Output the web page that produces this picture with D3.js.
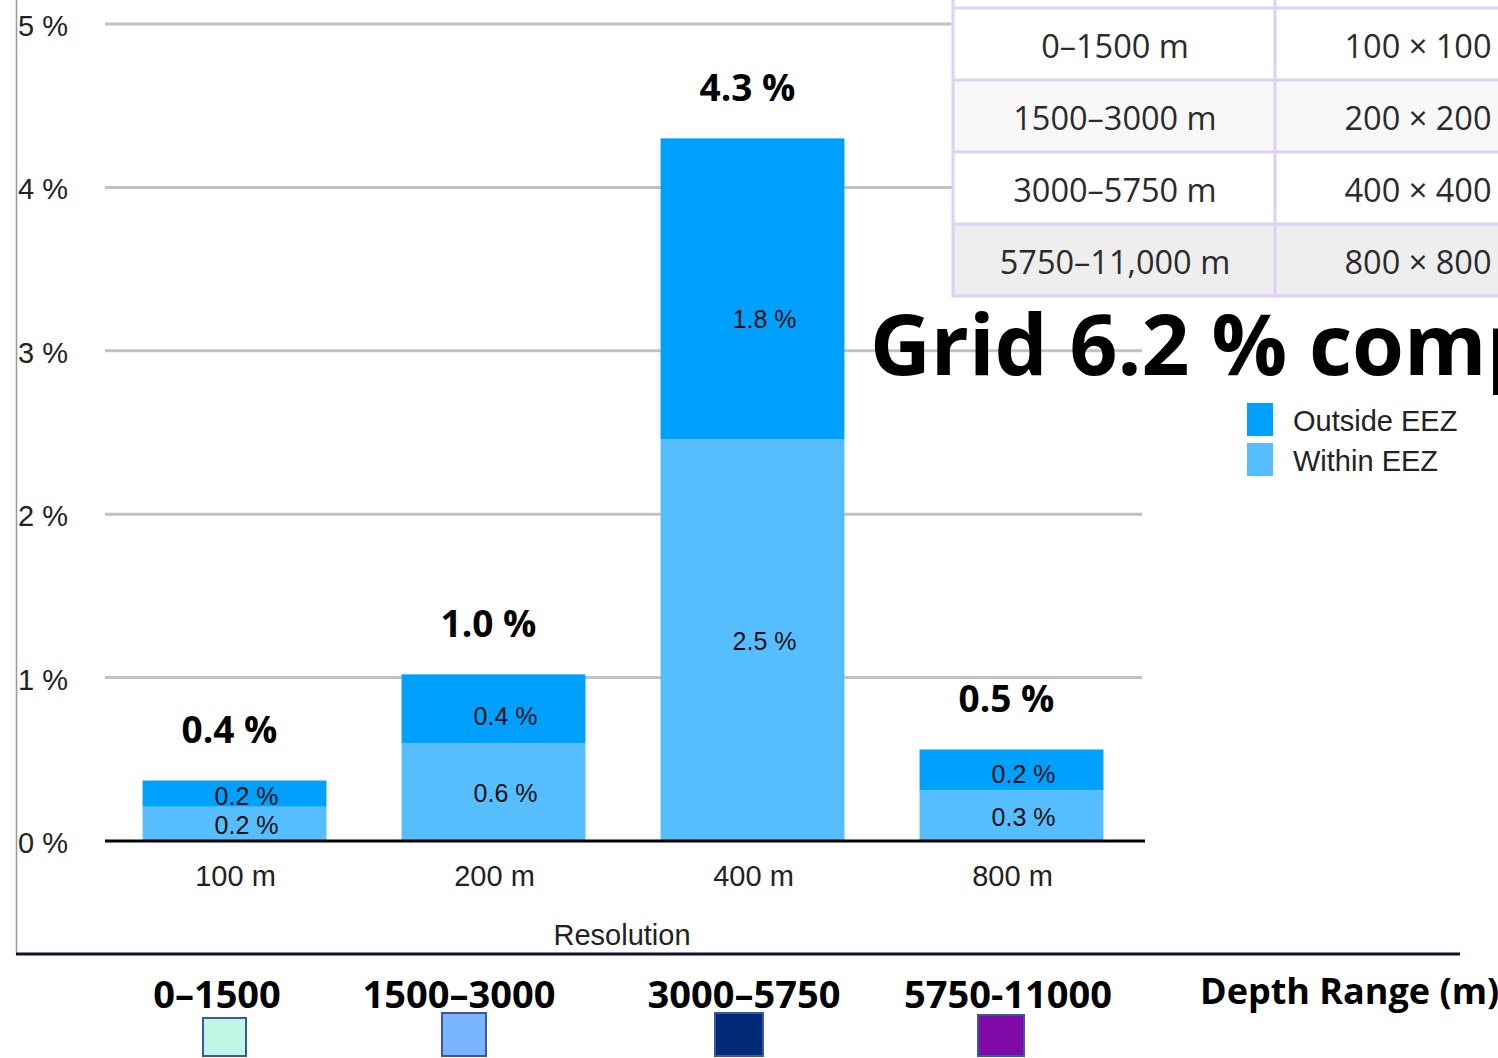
<!DOCTYPE html>
<html><head><meta charset="utf-8">
<script src="https://cdn.jsdelivr.net/npm/d3@7/dist/d3.min.js"></script>
<style>
html,body{margin:0;padding:0;background:#fff;overflow:hidden}
svg{display:block}
</style></head>
<body>
<svg id="c" width="1498" height="1058"></svg>
<script>
// ---- data ----
const categories = ["100 m", "200 m", "400 m", "800 m"];
const withinEEZ  = [0.21, 0.60, 2.46, 0.31];
const outsideEEZ = [0.16, 0.42, 1.84, 0.25];
const withinLabels  = ["0.2 %", "0.6 %", "2.5 %", "0.3 %"];
const outsideLabels = ["0.2 %", "0.4 %", "1.8 %", "0.2 %"];
const totalLabels   = ["0.4 %", "1.0 %", "4.3 %", "0.5 %"];
const yTicks = [0, 1, 2, 3, 4, 5];
const seriesNames = ["Outside EEZ", "Within EEZ"];
const tableDepth = ["0–1500 m", "1500–3000 m", "3000–5750 m", "5750–11,000 m"];
const tableGrid  = ["100 × 100", "200 × 200", "400 × 400", "800 × 800"];
const depthRanges = ["0–1500", "1500–3000", "3000–5750", "5750-11000"];
const depthColors = ["#bff7e6", "#78b4ff", "#032a78", "#8209aa"];

const svg = d3.select("#c");
const colOut = "#00a0ff", colIn = "#56beff";

const x = d3.scaleBand().domain(categories).range([105, 1141]).paddingInner(0.29).paddingOuter(0.145);
const y = d3.scaleLinear().domain([0, 5]).range([841, 24]);

// left frame line
svg.append("line").attr("x1", 16.5).attr("x2", 16.5).attr("y1", 0).attr("y2", 953).attr("stroke", "#999").attr("stroke-width", 1.5);

// gridlines
svg.append("g").selectAll("line").data(yTicks.filter(d => d > 0)).join("line")
  .attr("x1", 105).attr("x2", 1142).attr("y1", d => y(d)).attr("y2", d => y(d))
  .attr("stroke", "#c2c2c2").attr("stroke-width", 3);

// y tick labels
svg.append("g").selectAll("text").data(yTicks).join("text")
  .attr("x", 18).attr("y", d => y(d) + 2).attr("dominant-baseline", "central")
  .attr("font-family", "Liberation Sans, Arial, sans-serif").attr("font-size", 29).attr("fill", "#222")
  .text(d => d + " %");

// bars
const data = categories.map((c, i) => ({c, w: withinEEZ[i], o: outsideEEZ[i], i}));
const g = svg.append("g");
g.selectAll("rect.in").data(data).join("rect").attr("class", "in")
  .attr("x", d => x(d.c)).attr("width", x.bandwidth())
  .attr("y", d => y(d.w)).attr("height", d => y(0) - y(d.w)).attr("fill", colIn);
g.selectAll("rect.out").data(data).join("rect").attr("class", "out")
  .attr("x", d => x(d.c)).attr("width", x.bandwidth())
  .attr("y", d => y(d.w + d.o)).attr("height", d => y(d.w) - y(d.w + d.o)).attr("fill", colOut);

// baseline
svg.append("line").attr("x1", 105).attr("x2", 1145).attr("y1", y(0)).attr("y2", y(0)).attr("stroke", "#000").attr("stroke-width", 3);

const lblFont = "Liberation Sans, Arial, sans-serif";
// inner labels
g.selectAll("text.in").data(data).join("text").attr("class", "in")
  .attr("x", d => x(d.c) + x.bandwidth() / 2 + 12).attr("y", d => (y(0) + y(d.w)) / 2 + 1)
  .attr("text-anchor", "middle").attr("dominant-baseline", "central")
  .attr("font-family", lblFont).attr("font-size", 25).attr("fill", "#111")
  .text(d => withinLabels[d.i]);
g.selectAll("text.out").data(data).join("text").attr("class", "out")
  .attr("x", d => x(d.c) + x.bandwidth() / 2 + 12)
  .attr("y", d => y(d.w) - 0.4 * (y(d.w) - y(d.w + d.o)))
  .attr("text-anchor", "middle").attr("dominant-baseline", "central")
  .attr("font-family", lblFont).attr("font-size", 25).attr("fill", "#111")
  .text(d => outsideLabels[d.i]);
// total labels
g.selectAll("text.tot").data(data).join("text").attr("class", "tot")
  .attr("x", d => x(d.c) + x.bandwidth() / 2 - 5).attr("y", d => y(d.w + d.o) - 52)
  .attr("text-anchor", "middle").attr("dominant-baseline", "central")
  .attr("font-family", "Open Sans, sans-serif").attr("font-weight", "bold").attr("font-size", 37).attr("fill", "#000")
  .text(d => totalLabels[d.i]);

// x axis labels
svg.append("g").selectAll("text").data(categories).join("text")
  .attr("x", d => x(d) + x.bandwidth() / 2 + 1).attr("y", 876).attr("text-anchor", "middle").attr("dominant-baseline", "central")
  .attr("font-family", lblFont).attr("font-size", 29).attr("fill", "#222").text(d => d);
svg.append("text").attr("x", 622).attr("y", 935).attr("text-anchor", "middle").attr("dominant-baseline", "central")
  .attr("font-family", lblFont).attr("font-size", 29).attr("fill", "#222").text("Resolution");

// legend
const leg = svg.append("g");
seriesNames.forEach((s, i) => {
  leg.append("rect").attr("x", 1247).attr("y", 403 + i * 40).attr("width", 26).attr("height", 33).attr("fill", i === 0 ? colOut : colIn);
  leg.append("text").attr("x", 1293).attr("y", 421 + i * 40).attr("dominant-baseline", "central")
    .attr("font-family", lblFont).attr("font-size", 29).attr("fill", "#222").text(s);
});

// table (overlay)
const tb = svg.append("g");
const rowH = 72, row0 = 8, tx0 = 953, tx1 = 1275, tx2 = 1510;
const rowFills = ["#ffffff", "#f8f8f8", "#ffffff", "#eeeeee"];
tb.append("rect").attr("x", tx0).attr("y", -10).attr("width", tx2 - tx0).attr("height", row0 + 10).attr("fill", "#fff");
tableDepth.forEach((t, i) => {
  tb.append("rect").attr("x", tx0).attr("y", row0 + i * rowH).attr("width", tx2 - tx0).attr("height", rowH).attr("fill", rowFills[i]);
});
const bc = "#ddd0f5";
[0, 1, 2, 3, 4].forEach(i => tb.append("line").attr("x1", tx0).attr("x2", tx2).attr("y1", row0 + i * rowH).attr("y2", row0 + i * rowH).attr("stroke", bc).attr("stroke-width", 3));
[tx0, tx1].forEach(xx => tb.append("line").attr("x1", xx).attr("x2", xx).attr("y1", 0).attr("y2", row0 + 4 * rowH + 1.5).attr("stroke", bc).attr("stroke-width", 3));
tableDepth.forEach((t, i) => {
  tb.append("text").attr("x", 1115).attr("y", row0 + i * rowH + rowH / 2 + 1).attr("text-anchor", "middle").attr("dominant-baseline", "central")
    .attr("font-family", "Open Sans, sans-serif").attr("font-size", 32.5).attr("fill", "#2a2a2a").text(t);
  tb.append("text").attr("x", 1418).attr("y", row0 + i * rowH + rowH / 2 + 1).attr("text-anchor", "middle").attr("dominant-baseline", "central")
    .attr("font-family", "Open Sans, sans-serif").attr("font-size", 32.5).attr("fill", "#2a2a2a").text(tableGrid[i]);
});

// big title overlay (cut off at the right edge, as in the reference)
svg.append("text").attr("x", 870).attr("y", 375)
  .attr("font-family", "Open Sans, sans-serif").attr("font-weight", "bold").attr("font-size", 84).attr("fill", "#000")
  .text("Grid 6.2 % comp");

// bottom dark line
svg.append("line").attr("x1", 16).attr("x2", 1460).attr("y1", 954).attr("y2", 954).attr("stroke", "#0b1430").attr("stroke-width", 3);

// depth range legend
const depthX = [217, 459, 744, 1008];
const bl = svg.append("g");
depthRanges.forEach((d, i) => {
  bl.append("text").attr("x", depthX[i]).attr("y", 993).attr("text-anchor", "middle").attr("dominant-baseline", "central")
    .attr("font-family", "Open Sans, sans-serif").attr("font-weight", "bold").attr("font-size", 38).attr("fill", "#000").text(d);
});
const sw = [[203, 1018, 43, 38], [442, 1013, 44, 43], [715, 1013, 48, 43], [978, 1015, 46, 41]];
sw.forEach((s, i) => {
  bl.append("rect").attr("x", s[0]).attr("y", s[1]).attr("width", s[2]).attr("height", s[3])
    .attr("fill", depthColors[i]).attr("stroke", "#3a5a95").attr("stroke-width", 2);
});
bl.append("text").attr("x", 1200).attr("y", 990).attr("dominant-baseline", "central")
  .attr("font-family", "Open Sans, sans-serif").attr("font-weight", "bold").attr("font-size", 36).attr("fill", "#000").text("Depth Range (m)");
</script>
</body></html>
